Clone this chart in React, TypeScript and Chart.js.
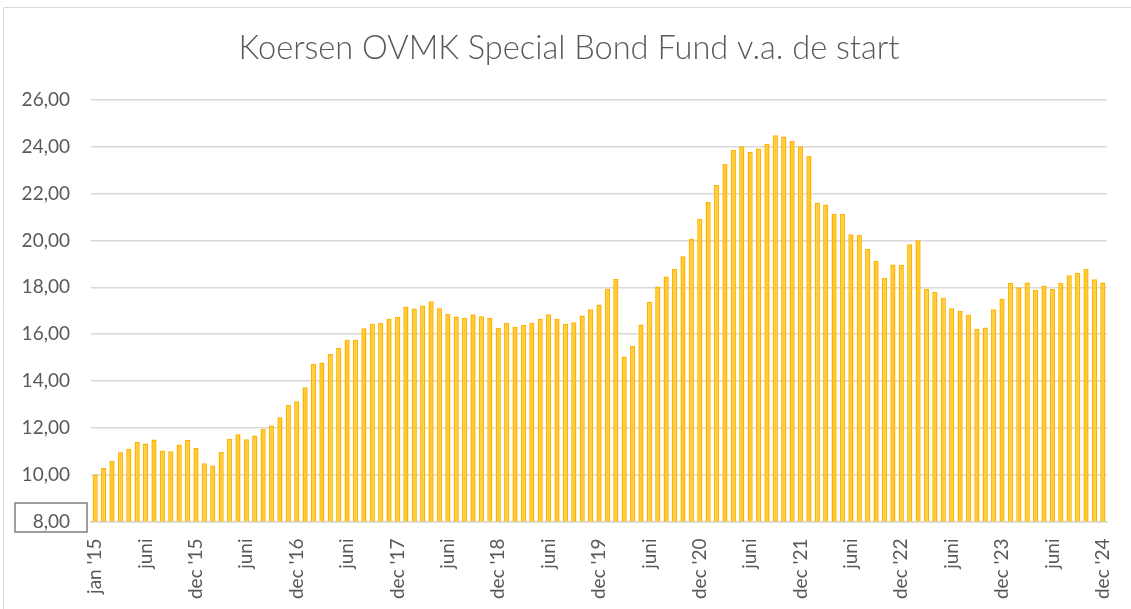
import React, { useEffect, useRef } from "react";
import { Chart, registerables } from "chart.js";

Chart.register(...registerables);

const TITLE = "Koersen OVMK Special Bond Fund v.a. de start";

const monthNames = ["jan", "feb", "mrt", "apr", "mei", "juni", "juli", "aug", "sep", "okt", "nov", "dec"];

// index 0 = start (jan '15), then month-end values feb..dec for 2015..2024
const categories: string[] = ["jan '15"];
for (let y = 15; y <= 24; y++) {
  for (let m = 0; m < 12; m++) {
    categories.push(m === 11 ? `dec '${y}` : monthNames[m]);
  }
}

const koersen2015 = [10.0, 10.29, 10.59, 10.96, 11.1, 11.39, 11.33, 11.5, 11.03, 11.0, 11.29, 11.49, 11.14];
const koersen2016 = [10.49, 10.39, 10.97, 11.53, 11.73, 11.51, 11.67, 11.96, 12.1, 12.45, 12.97, 13.14];
const koersen2017 = [13.73, 14.73, 14.79, 15.15, 15.42, 15.76, 15.76, 16.25, 16.45, 16.48, 16.66, 16.73];
const koersen2018 = [17.18, 17.1, 17.22, 17.41, 17.11, 16.86, 16.75, 16.7, 16.85, 16.77, 16.69, 16.27];
const koersen2019 = [16.48, 16.31, 16.39, 16.49, 16.65, 16.85, 16.65, 16.45, 16.51, 16.8, 17.06, 17.27];
const koersen2020 = [17.94, 18.36, 15.05, 15.49, 16.41, 17.38, 18.04, 18.46, 18.78, 19.33, 20.06, 20.92];
const koersen2021 = [21.64, 22.37, 23.27, 23.86, 24.03, 23.79, 23.93, 24.13, 24.5, 24.44, 24.25, 24.03];
const koersen2022 = [23.61, 21.61, 21.54, 21.14, 21.14, 20.27, 20.23, 19.65, 19.12, 18.4, 18.98, 18.96];
const koersen2023 = [19.84, 20.01, 17.93, 17.8, 17.56, 17.11, 17.0, 16.83, 16.23, 16.28, 17.06, 17.51];
const koersen2024 = [18.18, 18.0, 18.21, 17.89, 18.07, 17.93, 18.2, 18.52, 18.62, 18.78, 18.35, 18.21];

const values = [
  ...koersen2015,
  ...koersen2016,
  ...koersen2017,
  ...koersen2018,
  ...koersen2019,
  ...koersen2020,
  ...koersen2021,
  ...koersen2022,
  ...koersen2023,
  ...koersen2024,
];

const Y_MIN = 8;
const Y_MAX = 26;
const Y_STEP = 2;

const GRAY_TEXT = "#595959";
const FONT = "Lato, 'Open Sans', sans-serif";

const framePlugin = {
  id: "frame",
  afterDraw(chart: any) {
    const ctx = chart.ctx;
    ctx.save();
    ctx.strokeStyle = "#d9d9d9";
    ctx.lineWidth = 1;
    ctx.beginPath();
    ctx.moveTo(3.5, 620);
    ctx.lineTo(3.5, 7.5);
    ctx.lineTo(1131, 7.5);
    ctx.stroke();
    // box around the lowest y tick label, as in the reference
    const y8 = chart.scales.y.getPixelForValue(Y_MIN);
    ctx.strokeStyle = "#7f7f7f";
    ctx.lineWidth = 1.5;
    ctx.strokeRect(15, y8 - 18.5, 72, 29);
    // chart title
    ctx.fillStyle = GRAY_TEXT;
    ctx.font = `300 32.6px ${FONT}`;
    ctx.textAlign = "center";
    ctx.textBaseline = "middle";
    ctx.fillText(TITLE, 569, 48);
    ctx.restore();
  },
};

export default function App() {
  const ref = useRef<HTMLCanvasElement | null>(null);

  useEffect(() => {
    if (!ref.current) return;
    const chart = new Chart(ref.current, {
      type: "bar",
      data: {
        labels: categories,
        datasets: [
          {
            label: "Koers",
            data: values,
            backgroundColor: "#FFCB2E",
            borderColor: "#FFB300",
            borderWidth: 1.5,
            barPercentage: 0.62,
            categoryPercentage: 1,
          },
        ],
      },
      options: {
        responsive: false,
        animation: false,
        layout: { padding: { top: 100, left: 0, right: 24, bottom: 0 } },
        plugins: {
          legend: { display: false },
          tooltip: { enabled: false },
          title: { display: false },
        },
        scales: {
          x: {
            offset: true,
            grid: { display: false, drawTicks: false },
            border: { display: true, color: "#d9d9d9", width: 1.5 },
            ticks: {
              autoSkip: false,
              maxRotation: 90,
              minRotation: 90,
              padding: 17,
              color: GRAY_TEXT,
              font: { family: FONT, size: 19 },
              callback: (_v: any, i: number) => (i % 6 === 0 ? categories[i] : ""),
            },
            afterFit: (s: any) => {
              s.height = 87.5;
              s.paddingRight = 0;
              s.paddingLeft = 0;
            },
          },
          y: {
            min: Y_MIN,
            max: Y_MAX,
            grid: { color: "#d9d9d9", lineWidth: 1.5, drawTicks: false },
            border: { display: false },
            ticks: {
              stepSize: Y_STEP,
              padding: 21,
              color: GRAY_TEXT,
              font: { family: FONT, size: 19 },
              callback: (v: any) => Number(v).toFixed(2).replace(".", ","),
            },
            afterFit: (s: any) => {
              s.width = 91;
            },
          },
        },
      },
      plugins: [framePlugin],
    });
    return () => chart.destroy();
  }, []);

  return (
    <div style={{ position: "absolute", left: 0, top: 0, width: 1131, height: 609, background: "#fff" }}>
      <canvas ref={ref} width={1131} height={609} style={{ display: "block" }} />
    </div>
  );
}
